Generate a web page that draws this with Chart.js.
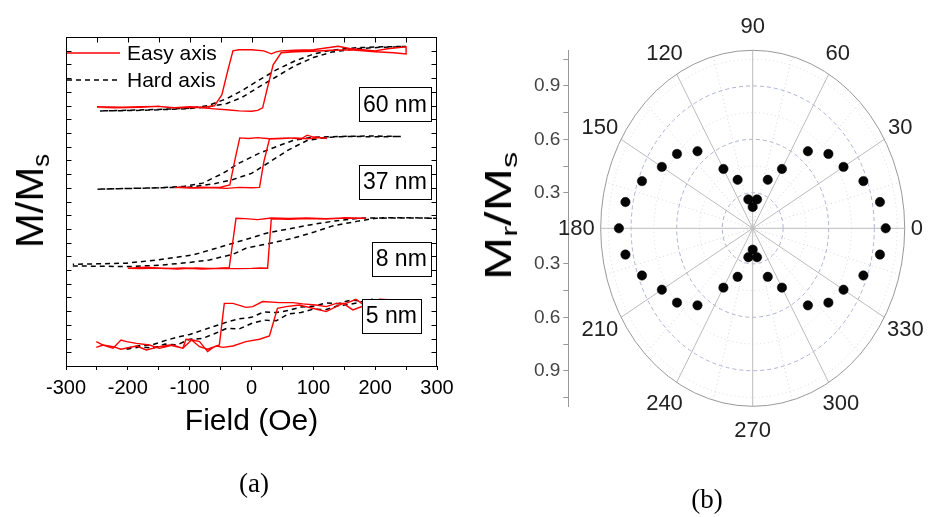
<!DOCTYPE html>
<html>
<head>
<meta charset="utf-8">
<script src="https://cdn.jsdelivr.net/npm/chart.js@4.4.0/dist/chart.umd.min.js"></script>
<style>
  body { margin: 0; background: #fff; width: 930px; height: 517px; position: relative; overflow: hidden; font-family: "Liberation Sans", Arial, sans-serif; }
  #wrapA { position: absolute; left: 0; top: 0; width: 465px; height: 517px; }
  #wrapB { position: absolute; left: 465px; top: 0; width: 465px; height: 517px; }
  .ylab { position: absolute; white-space: nowrap; color: #000; line-height: 1; }
  .ylab sub { font-size: 0.62em; vertical-align: -0.25em; line-height: 0; }
  .cap { position: absolute; font-family: "Liberation Serif", "Times New Roman", serif; font-size: 27px; transform: translate(-50%, -50%); }
</style>
</head>
<body>
<div id="wrapA"><canvas id="loops" width="465" height="517"></canvas></div>
<div id="wrapB"><canvas id="polar" width="465" height="517"></canvas></div>
<div class="ylab" style="left:30px;top:201px;font-size:38px;transform:translate(-50%,-50%) rotate(-90deg) scaleX(1.1);">M/M<sub>s</sub></div>
<div class="ylab" style="left:499px;top:216px;font-size:36px;transform:translate(-50%,-50%) rotate(-90deg) scaleX(1.45);">M<sub>r</sub>/M<sub>s</sub></div>
<div class="cap" style="left:254px;top:483px">(a)</div>
<div class="cap" style="left:707px;top:499px">(b)</div>

<script>
// ---------- (a) hysteresis loops: field (Oe) and stacked M (arbitrary units) ----------
const sampleNames = ["60 nm", "37 nm", "8 nm", "5 nm"];
const legendNames = ["Easy axis", "Hard axis"];

const e60H = [-250,-220,-180,-150,-120,-90,-60,-40,-20,0,10,18,25,35,48,70,100,130,160,200,230,250, 250,220,200,180,160,140,100,70,48,40,32,20,0,-20,-30,-38,-48,-60,-80,-100,-130,-150,-180,-210,-250];
const e60M = [18.87,18.83,18.87,18.94,18.83,18.87,18.76,18.69,18.61,18.58,18.65,18.83,20.15,21.97,22.85,22.92,22.96,23.03,23.07,22.92,22.85,22.77, 23.28,23.14,22.99,23.07,23.14,23.32,23.07,23.03,22.99,22.92,22.77,22.99,23.07,23.07,22.99,21.61,19.78,18.98,18.87,18.91,18.83,18.94,18.91,18.87,18.91];
const h60H = [-245,-200,-150,-100,-70,-40,-15,10,40,70,100,130,170,210,250, 210,170,130,100,70,40,10,-15,-40,-70,-100,-150,-200,-245];
const h60M = [18.61,18.63,18.69,18.78,18.9,19.15,19.6,20.3,21.1,21.9,22.5,22.9,23.15,23.25,23.31, 23.28,23.22,23.05,22.75,22.25,21.6,20.8,20.1,19.5,19.0,18.8,18.72,18.65,18.61];

const e37H = [-124,-100,-80,-60,-40,-20,0,13,20,29,50,70,90,110,121, 121,100,90,80,60,40,29,10,-5,-19,-27,-35,-50,-70,-90,-110,-124];
const e37M = [13.03,12.98,13.05,13.0,12.96,13.03,13.0,13.03,14.9,16.55,16.6,16.64,16.58,16.66,16.6, 16.62,16.7,16.84,16.55,16.64,16.6,16.58,16.66,16.6,16.64,15.0,13.21,13.05,13.0,12.98,13.04,13.0];
const h37H = [-249,-200,-150,-100,-60,-30,0,30,60,90,123,160,200,242, 200,160,123,99,67,40,13,-20,-46,-79,-110,-150,-200,-249];
const h37M = [12.9,12.95,13.0,13.05,13.3,13.6,14.05,14.9,15.77,16.45,16.69,16.75,16.72,16.74, 16.78,16.76,16.72,16.69,16.45,16.0,15.53,14.8,14.06,13.34,13.1,13.0,12.95,12.9];

const e8H = [-200,-170,-140,-110,-80,-50,-20,0,15,26,32,60,90,120,150,185, 150,120,90,60,32,10,-10,-25,-36,-60,-90,-120,-150,-180,-200];
const e8M = [7.13,7.2,7.1,7.15,7.08,7.13,7.1,7.12,7.15,7.13,10.73,10.7,10.76,10.72,10.8,10.78, 10.8,10.74,10.8,10.76,10.8,10.68,10.75,10.78,7.18,7.1,7.16,7.08,7.15,7.1,7.12];
const h8H = [-289,-250,-200,-150,-100,-68,-30,-9,30,67,100,131,170,201,250,300, 250,200,175,130,94,60,24,0,-30,-60,-95,-150,-202,-250,-289];
const h8M = [7.3,7.28,7.25,7.35,7.55,7.74,8.15,8.59,8.95,9.32,9.75,10.22,10.55,10.78,10.8,10.78, 10.82,10.8,10.78,10.55,10.29,10.0,9.69,9.35,8.96,8.55,8.1,7.75,7.5,7.45,7.42];

const e5H = [-251,-240,-224,-211,-186,-170,-149,-132,-111,-97,-84,-71,-57,-46,-30,-9,13,29,42,56,77,99,121,137,148,164,185,207,228,250, 228,207,185,169,153,137,121,104,83,67,45,18,2,-9,-30,-44,-52,-62,-71,-84,-95,-106,-111,-127,-149,-165,-186,-202,-211,-224,-240,-251];
const e5M = [1.36,1.53,1.41,1.22,1.46,1.17,1.41,1.53,1.29,1.90,1.41,1.22,1.46,1.36,1.46,1.78,1.95,2.19,4.21,4.33,4.45,4.21,3.97,4.33,4.57,4.09,4.45,4.62,4.45,4.33, 4.82,4.87,4.33,4.87,4.57,4.57,4.33,4.45,4.53,4.62,4.62,4.70,4.33,4.28,4.57,4.57,1.53,1.36,1.05,1.78,1.90,1.95,1.29,1.53,1.29,1.53,1.65,1.78,1.90,1.29,1.53,1.78];
const h5H = [-202,-180,-160,-140,-120,-100,-80,-60,-40,-20,0,20,40,60,80,100,120,140,160,180,196, 180,160,140,120,100,80,60,40,20,0,-20,-40,-60,-80,-100,-120,-140,-160,-180,-202];
const h5M = [1.22,1.4,1.3,1.6,1.55,1.95,2.0,2.35,2.75,2.7,3.1,3.35,3.3,3.8,3.9,4.15,4.1,4.4,4.5,4.7,4.87, 4.75,4.8,4.55,4.6,4.35,4.3,4.05,3.9,3.95,3.55,3.45,3.2,2.9,2.6,2.3,2.1,1.85,1.55,1.5,1.3];

// ---------- (b) polar: angle (deg) and Mr/Ms ----------
const angleDeg = [0,10,20,30,40,50,60,70,80,90,100,110,120,130,140,150,160,170,180,190,200,210,220,230,240,250,260,270,280,290,300,310,320,330,340,350];
const mrMs = [0.975,0.95,0.875,0.79,0.75,0.665,0.485,0.39,0.265,0.22,0.265,0.39,0.485,0.665,0.75,0.79,0.875,0.95,0.98,0.95,0.875,0.79,0.75,0.665,0.485,0.39,0.265,0.22,0.265,0.39,0.485,0.665,0.75,0.79,0.875,0.95];
const angleTicks = [0,30,60,90,120,150,180,210,240,270,300,330];
const radialTicks = [0.3,0.45,0.6,0.75,0.9,1.05];
const radialLabeled = [0.3,0.6,0.9];
const R0 = 0.1, RMAX = 1.1;

const RED = "#ff0000";
const FONT = '"Liberation Sans", Arial, sans-serif';

function pts(h, m) { return h.map((v, i) => ({ x: v, y: m[i] })); }
function easy(h, m) { return { data: pts(h, m), borderColor: RED, borderWidth: 1.4, showLine: true, pointRadius: 0, tension: 0 }; }
function hard(h, m) { return { data: pts(h, m), borderColor: "#000", borderWidth: 1.5, borderDash: [5, 4], showLine: true, pointRadius: 0, tension: 0 }; }

function seg(ctx, x0, y0, x1, y1) { ctx.beginPath(); ctx.moveTo(x0, y0); ctx.lineTo(x1, y1); ctx.stroke(); }

// sample tag positions: [right edge in Oe, centre in M units]
const tagPos = [[290, 19.09], [290, 13.45], [290, 7.8], [274, 3.66]];

const frame = {
  id: "frame",
  afterDatasetsDraw(chart) {
    const { ctx, chartArea: a, scales: { x, y } } = chart;
    const L = Math.round(a.left) + 0.5, R = Math.round(a.right) - 0.5, T = Math.round(a.top) + 0.5, B = Math.round(a.bottom) + 0.5;
    ctx.save();
    ctx.strokeStyle = "#000"; ctx.lineWidth = 1; ctx.setLineDash([]);
    ctx.strokeRect(L, T, R - L, B - T);
    for (let v = y.min + 1; v < y.max; v++) {
      const py = Math.round(y.getPixelForValue(v)) + 0.5;
      seg(ctx, L, py, L + 5, py);
      seg(ctx, R - 5, py, R, py);
    }
    for (let h = x.min + 50; h < x.max; h += 50) {
      const px = Math.round(x.getPixelForValue(h)) + 0.5;
      seg(ctx, px, T, px, T + 5);
    }
    // legend
    ctx.font = "21px " + FONT; ctx.textBaseline = "middle"; ctx.textAlign = "left"; ctx.fillStyle = "#000";
    ctx.strokeStyle = RED; ctx.lineWidth = 1.5;
    seg(ctx, a.left + 1, a.top + 16, a.left + 54, a.top + 16);
    ctx.fillText(legendNames[0], a.left + 61, a.top + 17);
    ctx.strokeStyle = "#000"; ctx.setLineDash([5, 4]);
    seg(ctx, a.left + 1, a.top + 43, a.left + 52, a.top + 43);
    ctx.setLineDash([]);
    ctx.fillText(legendNames[1], a.left + 61, a.top + 44);
    // sample tags
    ctx.font = "23px " + FONT; ctx.textAlign = "center";
    sampleNames.forEach((s, i) => {
      const w = ctx.measureText(s).width + 8, hgt = 34;
      const rx = x.getPixelForValue(tagPos[i][0]), cy = y.getPixelForValue(tagPos[i][1]);
      const bx = Math.round(rx - w) + 0.5, by = Math.round(cy - hgt / 2) + 0.5;
      ctx.fillStyle = "#fff"; ctx.fillRect(bx, by, w, hgt);
      ctx.strokeStyle = "#000"; ctx.lineWidth = 1; ctx.strokeRect(bx, by, Math.round(w), hgt);
      ctx.fillStyle = "#000"; ctx.fillText(s, rx - w / 2, cy + 1);
    });
    ctx.restore();
  }
};

new Chart(document.getElementById("loops"), {
  type: "scatter",
  data: {
    datasets: [
      easy(e60H, e60M), hard(h60H, h60M),
      easy(e37H, e37M), hard(h37H, h37M),
      easy(e8H, e8M), hard(h8H, h8M),
      easy(e5H, e5M), hard(h5H, h5M)
    ]
  },
  options: {
    responsive: false, animation: false, events: [],
    layout: { padding: { left: 66, right: 28, top: 37, bottom: 77.3 } },
    plugins: { legend: { display: false }, tooltip: { enabled: false } },
    scales: {
      x: {
        type: "linear", min: -300, max: 300,
        afterFit(s) { s.height = 73.7; },
        ticks: { stepSize: 50, autoSkip: false, maxRotation: 0, padding: 6, color: "#000", font: { size: 20, family: FONT },
          callback: v => (v % 100 === 0 ? String(v) : "") },
        grid: { drawOnChartArea: false, tickLength: 4, color: "#000" },
        border: { color: "#000", width: 1 },
        title: { display: true, text: "Field (Oe)", color: "#000", padding: 0, font: { size: 30, family: FONT } }
      },
      y: { type: "linear", display: false, min: 0, max: 24 }
    }
  },
  plugins: [frame]
});

// ---------- polar plot ----------
const polarGrid = {
  id: "polarGrid",
  beforeDatasetsDraw(chart) {
    const { ctx, scales: { x, y } } = chart;
    const cx = x.getPixelForValue(0), cy = y.getPixelForValue(0);
    const kx = x.getPixelForValue(1) - cx, ky = cy - y.getPixelForValue(1);
    const span = RMAX - R0;
    ctx.save();
    ctx.lineWidth = 1;
    // minor spokes
    ctx.strokeStyle = "#d6d6de"; ctx.setLineDash([1, 3]);
    for (let a = 15; a < 180; a += 30) {
      const t = a * Math.PI / 180;
      seg(ctx, cx - Math.cos(t) * kx, cy + Math.sin(t) * ky, cx + Math.cos(t) * kx, cy - Math.sin(t) * ky);
    }
    // rings
    radialTicks.forEach(v => {
      const f = (v - R0) / span;
      const major = radialLabeled.some(t => Math.abs(t - v) < 1e-6);
      ctx.strokeStyle = major ? "#aeb2d4" : "#d6d8ea";
      ctx.setLineDash(major ? [4, 3] : [1, 3]);
      ctx.beginPath(); ctx.ellipse(cx, cy, f * kx, f * ky, 0, 0, 2 * Math.PI); ctx.stroke();
    });
    // major spokes
    ctx.setLineDash([]); ctx.strokeStyle = "#bcbcbc";
    for (let a = 0; a < 180; a += 30) {
      const t = a * Math.PI / 180;
      seg(ctx, cx - Math.cos(t) * kx, cy + Math.sin(t) * ky, cx + Math.cos(t) * kx, cy - Math.sin(t) * ky);
    }
    // outer ring
    ctx.strokeStyle = "#999";
    ctx.beginPath(); ctx.ellipse(cx, cy, kx, ky, 0, 0, 2 * Math.PI); ctx.stroke();
    ctx.restore();
  },
  afterDraw(chart) {
    const { ctx, scales: { x, y } } = chart;
    const cx = x.getPixelForValue(0), cy = y.getPixelForValue(0);
    const kx = x.getPixelForValue(1) - cx, ky = cy - y.getPixelForValue(1);
    ctx.save();
    ctx.font = "22px " + FONT; ctx.fillStyle = "#222"; ctx.textAlign = "center"; ctx.textBaseline = "middle";
    angleTicks.forEach(a => {
      const t = a * Math.PI / 180, txt = String(a);
      const w = ctx.measureText(txt).width / 2;
      const px = cx + Math.cos(t) * (kx + 6 + w);
      const py = cy - Math.sin(t) * (ky + 8 + 16);
      ctx.fillText(txt, px, py + 1);
    });
    ctx.restore();
  }
};

new Chart(document.getElementById("polar"), {
  type: "scatter",
  data: {
    datasets: [{
      data: angleDeg.map((a, i) => {
        const r = (mrMs[i] - R0) / (RMAX - R0), t = a * Math.PI / 180;
        return { x: r * Math.cos(t), y: r * Math.sin(t) };
      }),
      pointRadius: 4.7, pointHoverRadius: 4.7,
      pointBackgroundColor: "#050505", pointBorderColor: "#000", pointBorderWidth: 0.5
    }]
  },
  options: {
    responsive: false, animation: false, events: [],
    layout: { padding: { left: 0, right: 25.3, top: 50.3, bottom: 110.7 } },
    plugins: { legend: { display: false }, tooltip: { enabled: false } },
    scales: {
      x: { type: "linear", display: false, min: -1.213, max: 1.0 },
      y: {
        type: "linear", min: -1, max: 1,
        afterFit(s) { s.width = 103.3; },
        afterBuildTicks(s) {
          const span = RMAX - R0;
          const up = radialTicks.map(v => (v - R0) / span);
          s.ticks = [...up.map(v => -v).reverse(), ...up].map(v => ({ value: v }));
        },
        ticks: {
          autoSkip: false, padding: 3, color: "#444", font: { size: 19, family: FONT },
          callback(v) {
            const r = Math.abs(v) * (RMAX - R0) + R0;
            return radialLabeled.some(t => Math.abs(t - r) < 1e-6) ? r.toFixed(1) : "";
          }
        },
        grid: { drawOnChartArea: false, tickLength: 5, color: "#999" },
        border: { color: "#999", width: 1 }
      }
    }
  },
  plugins: [polarGrid]
});
</script>
</body>
</html>
